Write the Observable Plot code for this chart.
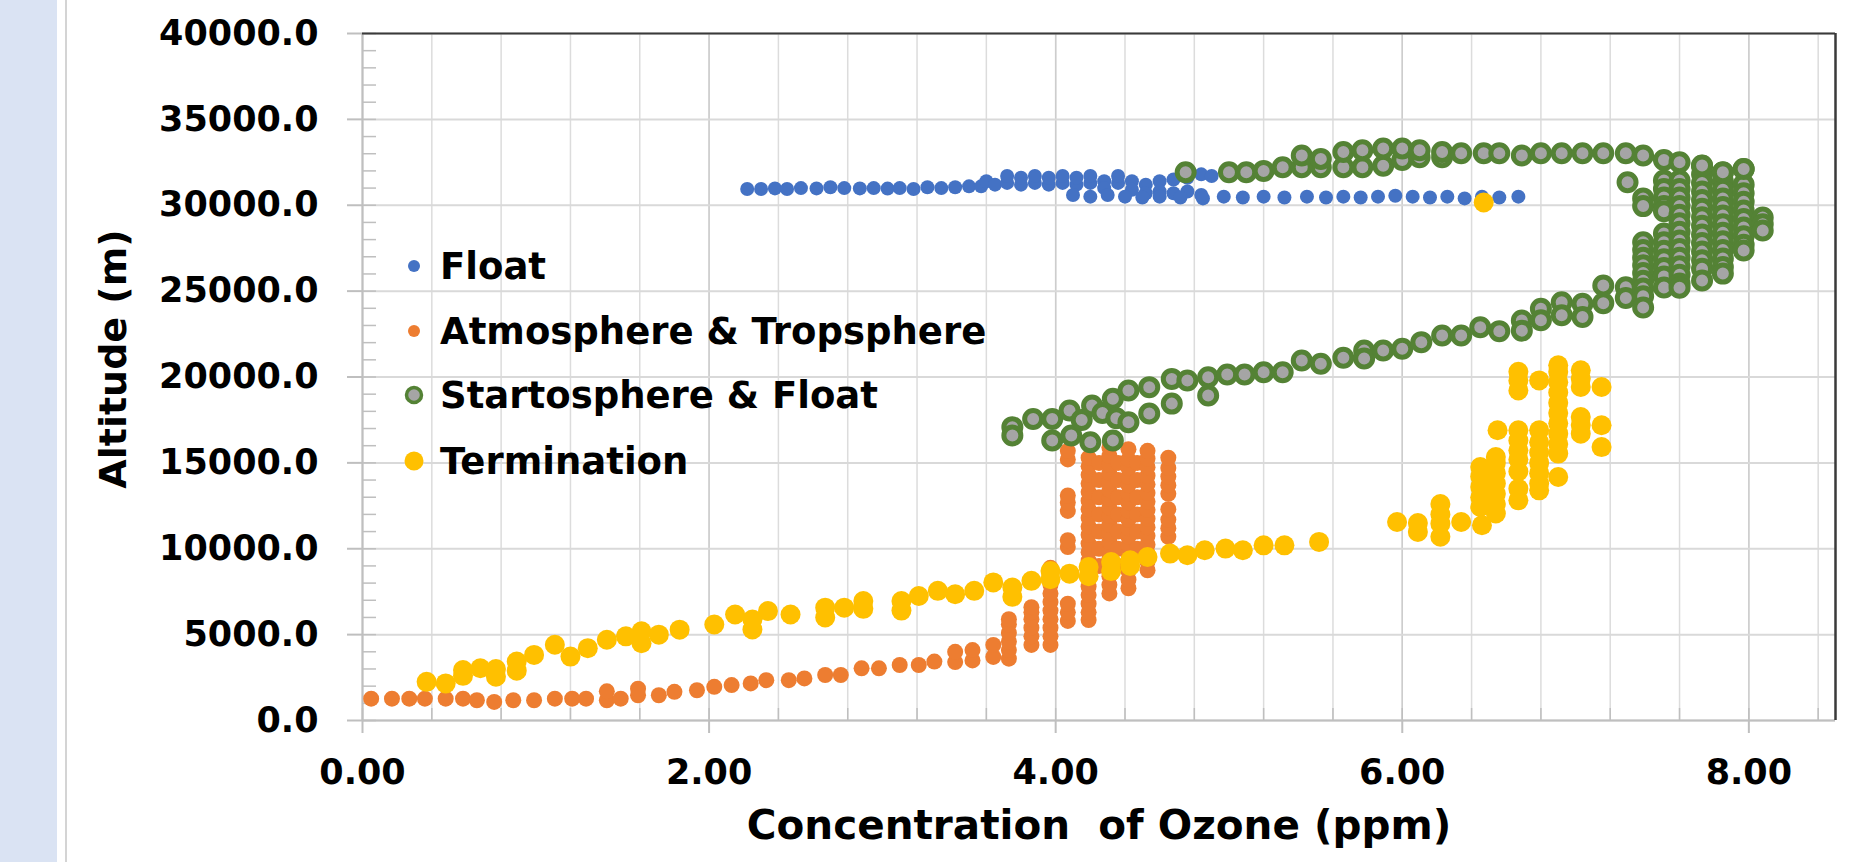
<!DOCTYPE html>
<html><head><meta charset="utf-8">
<script src="https://cdn.jsdelivr.net/npm/d3@7"></script>
<script src="https://cdn.jsdelivr.net/npm/@observablehq/plot@0.6"></script>
<style>
html,body{margin:0;padding:0;background:#fff;width:1873px;height:862px;overflow:hidden;}
#wrap{position:relative;width:1873px;height:862px;}
#chart{position:absolute;left:0;top:0;}
#strip{position:absolute;left:0;top:0;width:57px;height:862px;background:#dae3f3;z-index:2;}
#sep{position:absolute;left:65px;top:0;width:2px;height:862px;background:#d4d4d4;z-index:2;}
#legend{position:absolute;left:0;top:0;font-family:"DejaVu Sans",sans-serif;font-weight:bold;font-size:37px;color:#000;z-index:3;}
.row{position:absolute;height:50px;display:flex;align-items:center;white-space:nowrap;}
</style></head>
<body><div id="wrap"><div id="strip"></div><div id="sep"></div><div id="chart"></div><div id="legend"></div></div>
<script>
const seriesNames = ["Float", "Atmosphere & Tropsphere", "Startosphere & Float", "Termination"];
const xMajor = [0, 2, 4, 6, 8];
const xMinor = [0, 0.4, 0.8, 1.2, 1.6, 2.0, 2.4, 2.8, 3.2, 3.6, 4.0, 4.4, 4.8, 5.2, 5.6, 6.0, 6.4, 6.8, 7.2, 7.6, 8.0, 8.4];
const yMajor = [0, 5000, 10000, 15000, 20000, 25000, 30000, 35000, 40000];
const yMinor = [0,1000,2000,3000,4000,5000,6000,7000,8000,9000,10000,11000,12000,13000,14000,15000,16000,17000,18000,19000,20000,21000,22000,23000,24000,25000,26000,27000,28000,29000,30000,31000,32000,33000,34000,35000,36000,37000,38000,39000,40000];

// [ozone ppm, altitude m]
const floatPts = [
 [2.22,30950],[2.30,30950],[2.38,30980],[2.45,30950],[2.53,31000],[2.62,30980],[2.70,31050],[2.78,31000],[2.87,30980],[2.95,31000],
 [3.03,30970],[3.10,31000],[3.18,30950],[3.26,31050],[3.34,31000],[3.42,31050],[3.50,31100],
 [3.57,31100],[3.60,31400],[3.65,31200],[3.72,31300],[3.72,31700],[3.80,31200],[3.80,31600],[3.88,31300],[3.88,31700],
 [3.96,31200],[3.96,31600],[4.04,31300],[4.04,31700],[4.12,31200],[4.12,31600],[4.20,31300],[4.20,31700],[4.28,31400],[4.28,31000],
 [4.36,31300],[4.36,31700],[4.44,31400],[4.44,30900],[4.52,31200],[4.52,30700],[4.60,31400],[4.60,30800],[4.68,31500],[4.68,30700],
 [4.76,31600],[4.76,30800],[4.84,31800],[4.84,30600],[4.90,31700],
 [4.10,30600],[4.20,30500],[4.30,30600],[4.40,30500],[4.50,30450],[4.60,30500],[4.72,30450],[4.85,30400],[4.97,30500],[5.08,30450],
 [5.20,30500],[5.32,30450],[5.45,30500],[5.56,30450],[5.66,30500],[5.76,30450],[5.86,30500],[5.96,30550],[6.06,30500],[6.16,30450],
 [6.26,30500],[6.36,30400],[6.46,30500],[6.56,30450],[6.67,30500]
];
const atmoPts = [
 [0.05,1270],[0.17,1270],[0.27,1270],[0.36,1270],[0.48,1270],[0.58,1270],[0.66,1180],[0.76,1080],[0.87,1180],[0.99,1180],
 [1.11,1270],[1.21,1270],[1.29,1270],[1.41,1180],[1.41,1700],[1.49,1270],[1.59,1470],[1.59,1850],[1.71,1470],[1.80,1670],
 [1.93,1760],[2.03,1960],[2.13,2060],[2.24,2160],[2.33,2350],[2.46,2350],[2.55,2450],[2.67,2650],[2.76,2650],[2.88,3040],
 [2.98,3040],[3.10,3230],[3.21,3230],[3.30,3430],[3.42,3400],[3.42,4000],[3.52,3500],[3.52,4100],[3.64,3700],[3.64,4400],
 [3.73,3600],[3.73,4100],[3.73,4600],[3.73,5100],[3.73,5600],[3.73,5900],
 [3.86,4400],[3.86,4900],[3.86,5400],[3.86,5900],[3.86,6300],[3.86,6600],
 [3.97,4400],[3.97,4900],[3.97,5400],[3.97,5900],[3.97,6400],[3.97,6900],[3.97,7400],[3.97,7900],[3.97,8400],[3.97,8900],
 [4.07,5800],[4.07,6300],[4.07,6800],[4.07,10100],[4.07,10500],[4.07,12200],[4.07,12700],[4.07,13100],[4.07,15200],[4.07,15700],
 [4.19,5850],[4.19,6300],[4.19,6800],[4.19,7300],[4.19,7800],[4.19,8300],[4.19,8800],[4.19,9300],[4.19,9800],[4.19,10300],
 [4.19,10800],[4.19,11300],[4.19,11800],[4.19,12300],[4.19,12800],[4.19,13300],[4.19,13800],[4.19,14300],[4.19,14800],[4.19,15300],
 [4.25,9000],[4.25,10000],[4.25,11000],[4.25,12000],[4.25,13000],[4.25,14000],[4.25,15000],
 [4.31,7400],[4.31,7900],[4.31,8400],[4.31,8900],[4.31,9400],[4.31,9900],[4.31,10400],[4.31,10900],[4.31,11400],[4.31,11900],
 [4.31,12400],[4.31,12900],[4.31,13400],[4.31,13900],[4.31,14400],[4.31,14900],[4.31,15400],[4.31,15900],
 [4.36,9000],[4.36,10000],[4.36,11000],[4.36,12000],[4.36,13000],[4.36,14000],[4.36,15000],
 [4.42,7700],[4.42,8200],[4.42,8700],[4.42,9200],[4.42,9700],[4.42,10200],[4.42,10700],[4.42,11200],[4.42,11700],[4.42,12200],
 [4.42,12700],[4.42,13200],[4.42,13700],[4.42,14200],[4.42,14700],[4.42,15200],[4.42,15800],
 [4.47,10000],[4.47,11000],[4.47,12000],[4.47,13000],[4.47,14000],[4.47,15000],
 [4.53,8750],[4.53,9250],[4.53,9750],[4.53,10250],[4.53,10750],[4.53,11250],[4.53,11750],[4.53,12250],[4.53,12750],[4.53,13250],
 [4.53,13750],[4.53,14250],[4.53,14750],[4.53,15250],[4.53,15700],
 [4.65,10700],[4.65,11200],[4.65,11700],[4.65,12300],[4.65,13200],[4.65,13700],[4.65,14200],[4.65,14700],[4.65,15300]
];
const stratoPts = [
 [3.75,17080],[3.75,16600],[3.87,17560],[3.98,17560],[3.98,16300],[4.08,18050],[4.09,16590],[4.15,17500],[4.20,16200],[4.21,18340],
 [4.27,17900],[4.33,18730],[4.33,16300],[4.35,17600],[4.42,19210],[4.42,17370],[4.54,19410],[4.54,17870],[4.67,19890],[4.67,18450],
 [4.76,19800],[4.88,19990],[4.88,18920],[4.99,20140],[5.09,20140],[5.20,20280],[5.31,20280],[5.42,20960],[5.53,20770],[5.66,21120],
 [5.78,21540],[5.78,21080],[5.89,21540],[6.00,21640],[6.11,22030],[6.23,22420],[6.34,22420],[6.45,22900],[6.56,22670],[6.69,23290],
 [6.69,22700],[6.80,23970],[6.80,23300],[6.92,24350],[6.92,23600],[7.04,24260],[7.04,23500],[7.16,25330],[7.16,24300],[7.29,25230],
 [7.29,24600],
 [7.30,31340],
 [7.39,30400],[7.39,29950],[7.39,27850],[7.39,27400],[7.39,26950],[7.39,26500],[7.39,26050],[7.39,25600],[7.39,25150],[7.39,24700],[7.39,24050],
 [7.51,31440],[7.51,30950],[7.51,30450],[7.51,29950],[7.51,29650],[7.51,28350],[7.51,27850],[7.51,27350],[7.51,26850],[7.51,26350],[7.51,25850],[7.51,25210],
 [7.60,31440],[7.60,30950],[7.60,30450],[7.60,29950],[7.60,29450],[7.60,28950],[7.60,28450],[7.60,27950],[7.60,27450],[7.60,26950],[7.60,26450],[7.60,25950],[7.60,25450],[7.60,25200],
 [7.73,32300],[7.73,31800],[7.73,31300],[7.73,30800],[7.73,30300],[7.73,29800],[7.73,29300],[7.73,28800],[7.73,28300],[7.73,27800],[7.73,27300],[7.73,26800],[7.73,26300],[7.73,25620],
 [7.85,31900],[7.85,31400],[7.85,30900],[7.85,30400],[7.85,29900],[7.85,29400],[7.85,28900],[7.85,28400],[7.85,27900],[7.85,27400],[7.85,26900],[7.85,26400],[7.85,26020],
 [7.97,32110],[7.97,31200],[7.97,30700],[7.97,30200],[7.97,29700],[7.97,29200],[7.97,28700],[7.97,28200],[7.97,27700],[7.97,27360],
 [8.08,29280],[8.08,28900],[8.08,28530],
 [4.75,31920],[5.00,31920],[5.10,31920],[5.20,32000],[5.31,32210],[5.42,32210],[5.42,32900],[5.53,32210],[5.53,32700],[5.66,32210],
 [5.66,33100],[5.77,32210],[5.77,33200],[5.89,32300],[5.89,33300],[6.00,32640],[6.00,33300],[6.10,32800],[6.10,33200],[6.23,32800],
 [6.23,33100],[6.34,33030],[6.47,33030],[6.56,33030],[6.69,32900],[6.80,33030],[6.92,33030],[7.04,33030],[7.16,33030],[7.29,33030],
 [7.39,32900],[7.51,32640],[7.60,32500],[7.73,32310],[7.85,31920],[7.97,32110]
];
const termPts = [
 [0.37,2250],[0.48,2160],[0.58,2940],[0.58,2600],[0.68,3040],[0.77,2550],[0.77,3000],[0.89,3430],[0.89,2900],[0.99,3820],
 [1.11,4410],[1.20,3720],[1.30,4210],[1.41,4700],[1.52,4900],[1.61,5190],[1.61,4500],[1.71,5000],[1.83,5290],[2.03,5590],
 [2.15,6170],[2.25,5880],[2.25,5300],[2.34,6370],[2.47,6170],[2.67,6570],[2.67,6000],[2.78,6570],[2.89,6960],[2.89,6500],
 [3.11,6960],[3.11,6400],[3.21,7250],[3.32,7550],[3.42,7350],[3.53,7550],[3.64,8040],[3.75,7740],[3.75,7200],[3.86,8130],
 [3.97,8230],[3.97,8700],[4.08,8550],[4.19,8940],[4.19,8400],[4.32,9230],[4.32,8700],[4.43,9330],[4.43,9000],[4.53,9520],
 [4.66,9720],[4.76,9620],[4.86,9910],[4.98,10010],[5.08,9910],[5.20,10200],[5.32,10200],[5.52,10400],
 [5.97,11560],[6.09,10980],[6.09,11500],[6.22,10700],[6.22,11460],[6.22,12000],[6.22,12600],[6.34,11560],[6.46,11370],
 [6.45,12430],[6.45,13000],[6.45,13600],[6.45,14200],[6.45,14760],[6.54,12050],[6.54,12600],[6.54,13200],[6.54,13800],
 [6.54,14400],[6.54,15000],[6.54,15340],[6.55,16900],[6.67,12820],[6.67,13500],[6.67,14500],[6.67,15200],[6.67,15730],
 [6.67,16300],[6.67,16900],[6.67,19220],[6.67,19800],[6.67,20300],[6.79,13400],[6.79,13800],[6.79,14400],[6.79,15000],
 [6.79,15600],[6.79,16200],[6.79,16900],[6.79,19800],[6.90,14180],[6.90,15540],[6.90,16100],[6.90,16700],[6.90,17300],
 [6.90,17900],[6.90,18500],[6.90,19100],[6.90,19700],[6.90,20300],[6.90,20680],[7.03,16700],[7.03,17200],[7.03,17670],
 [7.03,19420],[7.03,19900],[7.03,20390],[7.15,15920],[7.15,17190],[7.15,19420],
 [6.47,30160]
];

const colors = {float: "#4472c4", atmo: "#ed7d31", strato: "#548235", stratoFill: "#a5a5a5", term: "#ffc000"};
const toRows = (pts, s) => pts.map(([x, y]) => ({series: s, x, y}));
const floatData = toRows(floatPts, seriesNames[0]);
const atmoData = toRows(atmoPts, seriesNames[1]);
const stratoData = toRows(stratoPts, seriesNames[2]);
const termData = toRows(termPts, seriesNames[3]);

const W = 1873, H = 862, mL = 362, mR = 38, mT = 33, mB = 142;
const frameW = W - mL - mR, frameH = H - mT - mB;

const chart = Plot.plot({
  width: W, height: H,
  marginLeft: mL, marginRight: mR, marginTop: mT, marginBottom: mB,
  x: {domain: [0, 8.5], label: null},
  y: {domain: [0, 40000], label: null},
  style: {fontFamily: '"DejaVu Sans", sans-serif', fontWeight: "bold", background: "transparent", color: "#000", overflow: "visible"},
  marks: [
    Plot.ruleX(xMinor, {stroke: "#dcdcdc", strokeWidth: 1.5}),
    Plot.ruleX(xMajor, {stroke: "#cdcdcd", strokeWidth: 1.5}),
    Plot.ruleY(yMajor, {stroke: "#d9d9d9", strokeWidth: 2}),
    Plot.ruleX(xMinor, {stroke: "#bfbfbf", strokeWidth: 1.5, insetTop: frameH - 12}),
    Plot.ruleY(yMinor, {stroke: "#bfbfbf", strokeWidth: 1.5, insetRight: frameW - 14}),
    Plot.ruleX([0], {stroke: "#bfbfbf", strokeWidth: 2}),
    Plot.ruleY([0], {stroke: "#bfbfbf", strokeWidth: 2}),
    Plot.ruleY([40000], {stroke: "#3a3a3a", strokeWidth: 2}),
    Plot.ruleX([8.5], {stroke: "#3a3a3a", strokeWidth: 2.5}),
    Plot.axisX(xMajor, {tickSize: 13, text: null, label: null, stroke: "#bfbfbf", strokeWidth: 2}),
    Plot.axisX(xMajor, {tickSize: 0, tickPadding: 39, tickFormat: d => d.toFixed(2), fontSize: 35, fill: "#000", label: null}),
    Plot.axisY(yMajor, {tickSize: 15, text: null, label: null, stroke: "#bfbfbf", strokeWidth: 2}),
    Plot.axisY(yMajor, {tickSize: 0, tickPadding: 44, tickFormat: d => d.toFixed(1), fontSize: 35, fill: "#000", label: null}),
    Plot.dot(floatData, {x: "x", y: "y", r: 7, fill: colors.float}),
    Plot.dot(atmoData, {x: "x", y: "y", r: 8, fill: colors.atmo}),
    Plot.dot(stratoData, {x: "x", y: "y", r: 8.5, fill: colors.stratoFill, stroke: colors.strato, strokeWidth: 5}),
    Plot.dot(termData, {x: "x", y: "y", r: 10, fill: colors.term}),
    Plot.text(["Altitude (m)"], {text: d => d, frameAnchor: "left", dx: -249, dy: -18, rotate: -90, fontSize: 38, textAnchor: "middle", lineAnchor: "middle", fill: "#000"}),
    Plot.text(["Concentration\u00a0 of Ozone (ppm)"], {text: d => d, frameAnchor: "bottom", dy: 106, fontSize: 40.5, textAnchor: "middle", lineAnchor: "middle", fill: "#000"})
  ]
});
document.getElementById("chart").appendChild(chart);

// legend (inside plot area, upper left)
const legendStyles = [
  {r: 6, fill: colors.float, stroke: "none", sw: 0},
  {r: 6, fill: colors.atmo, stroke: "none", sw: 0},
  {r: 7.5, fill: colors.stratoFill, stroke: colors.strato, sw: 3.5},
  {r: 9.5, fill: colors.term, stroke: "none", sw: 0}
];
const legendCenters = [266, 331, 395, 461];
const legend = document.getElementById("legend");
seriesNames.forEach((name, i) => {
  const row = document.createElement("div");
  row.className = "row";
  row.style.left = "399px";
  row.style.top = (legendCenters[i] - 25) + "px";
  const st = legendStyles[i];
  row.innerHTML = `<svg width="30" height="30" style="margin-right:11px"><circle cx="15" cy="15" r="${st.r}" fill="${st.fill}" stroke="${st.stroke}" stroke-width="${st.sw}"/></svg><span></span>`;
  row.querySelector("span").textContent = name;
  legend.appendChild(row);
});
</script></body></html>
